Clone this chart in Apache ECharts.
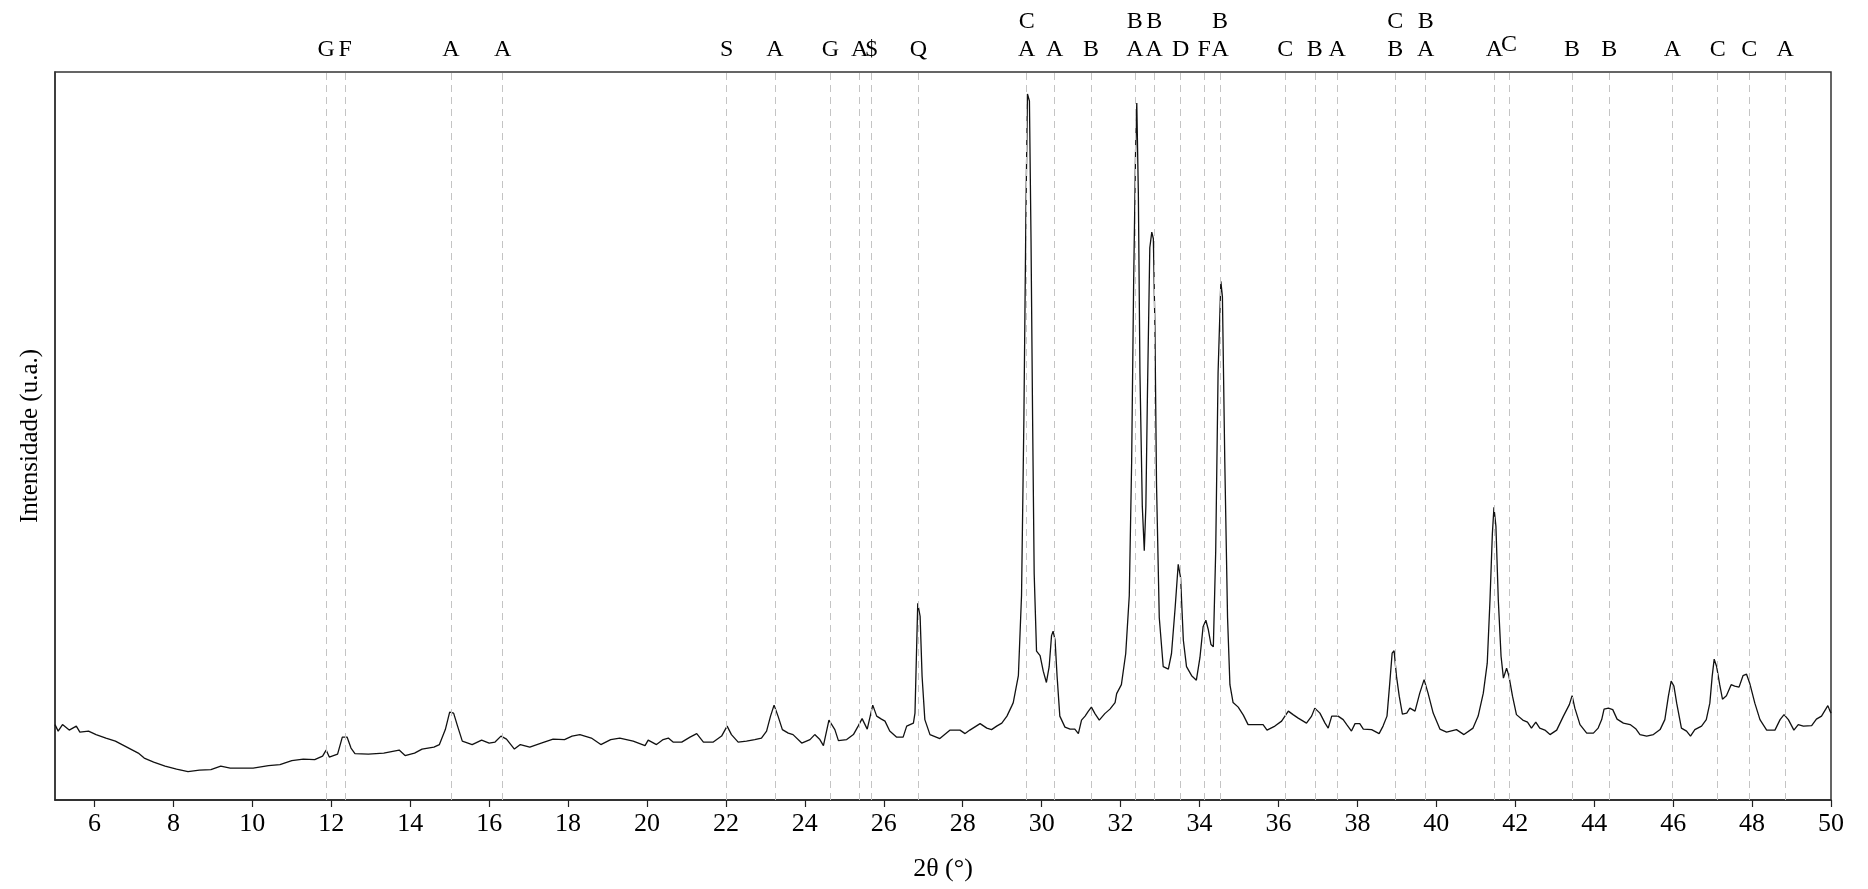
<!DOCTYPE html>
<html>
<head>
<meta charset="utf-8">
<script src="https://cdn.jsdelivr.net/npm/echarts@6/dist/echarts.min.js"></script>
<style>
  html, body { margin: 0; padding: 0; background: #fff; }
  #main { width: 1868px; height: 889px; }
</style>
</head>
<body>
<div id="main"></div>
<script>
// difratograma: 2theta (graus) e intensidade (u.a., escala arbitraria)
var twoTheta = [
  5.00, 5.08, 5.19, 5.36, 5.54, 5.63, 5.85, 6.04, 6.29, 6.53, 6.82, 7.11, 7.26, 7.50, 7.79, 8.08, 8.37, 8.66, 8.95, 9.20,
  9.44, 9.73, 10.02, 10.41, 10.70, 11.00, 11.29, 11.58, 11.78, 11.87, 11.95, 12.16, 12.28, 12.40, 12.50, 12.60, 12.94, 13.33, 13.72, 13.87,
  14.11, 14.30, 14.60, 14.74, 14.89, 15.00, 15.10, 15.20, 15.32, 15.57, 15.81, 16.00, 16.15, 16.30, 16.44, 16.64, 16.79, 17.03, 17.32, 17.62,
  17.91, 18.10, 18.30, 18.59, 18.83, 19.08, 19.31, 19.65, 19.95, 20.03, 20.24, 20.41, 20.54, 20.66, 20.88, 21.09, 21.26, 21.43, 21.68, 21.89,
  22.03, 22.14, 22.31, 22.52, 22.73, 22.90, 23.03, 23.13, 23.22, 23.32, 23.43, 23.58, 23.70, 23.92, 24.13, 24.25, 24.38, 24.47, 24.61, 24.76,
  24.85, 25.06, 25.23, 25.35, 25.45, 25.58, 25.72, 25.82, 25.94, 26.03, 26.15, 26.32, 26.49, 26.58, 26.75, 26.79, 26.86, 26.92, 26.97, 27.04,
  27.17, 27.42, 27.68, 27.93, 28.06, 28.18, 28.44, 28.61, 28.73, 28.86, 28.99, 29.12, 29.24, 29.28, 29.41, 29.49, 29.55, 29.60, 29.64, 29.69,
  29.73, 29.77, 29.81, 29.87, 29.96, 30.04, 30.12, 30.19, 30.25, 30.29, 30.34, 30.39, 30.46, 30.59, 30.72, 30.84, 30.93, 31.01, 31.10, 31.18,
  31.26, 31.35, 31.46, 31.60, 31.73, 31.86, 31.90, 32.02, 32.13, 32.22, 32.28, 32.33, 32.38, 32.41, 32.45, 32.49, 32.55, 32.60, 32.64, 32.68,
  32.74, 32.79, 32.83, 32.87, 32.91, 32.98, 33.08, 33.21, 33.29, 33.38, 33.46, 33.52, 33.59, 33.67, 33.80, 33.92, 34.01, 34.09, 34.16, 34.22,
  34.29, 34.35, 34.41, 34.47, 34.54, 34.58, 34.64, 34.71, 34.77, 34.85, 34.98, 35.11, 35.23, 35.40, 35.61, 35.71, 35.91, 36.08, 36.25, 36.37,
  36.50, 36.71, 36.84, 36.92, 37.05, 37.18, 37.26, 37.35, 37.51, 37.64, 37.73, 37.85, 37.94, 38.06, 38.15, 38.36, 38.55, 38.65, 38.75, 38.82,
  38.88, 38.93, 38.99, 39.06, 39.14, 39.25, 39.33, 39.46, 39.58, 39.69, 39.79, 39.92, 40.09, 40.26, 40.51, 40.70, 40.93, 41.06, 41.19, 41.29,
  41.36, 41.42, 41.46, 41.51, 41.57, 41.64, 41.70, 41.78, 41.84, 41.93, 42.03, 42.19, 42.31, 42.41, 42.52, 42.62, 42.75, 42.88, 43.05, 43.22,
  43.37, 43.44, 43.51, 43.64, 43.81, 43.98, 44.10, 44.19, 44.25, 44.36, 44.47, 44.58, 44.74, 44.91, 45.06, 45.16, 45.33, 45.50, 45.67, 45.79,
  45.88, 45.95, 46.02, 46.09, 46.21, 46.34, 46.44, 46.55, 46.72, 46.84, 46.93, 46.99, 47.04, 47.10, 47.18, 47.25, 47.35, 47.47, 47.56, 47.67,
  47.77, 47.86, 47.94, 48.07, 48.20, 48.37, 48.58, 48.71, 48.81, 48.92, 49.06, 49.17, 49.30, 49.51, 49.63, 49.76, 49.92, 49.96, 50.00
];
var intensidade = [
  75.5, 69, 75.5, 70, 74, 68, 69, 65.5, 62, 59, 53, 47, 42, 38, 34, 31, 28.5, 30, 30.5, 34,
  32, 32, 32, 34.5, 35.5, 39.5, 41, 40.5, 44, 50, 43, 46, 63, 63, 52, 46.5, 46, 47, 50, 44.5,
  47, 51, 53, 55.5, 70.5, 88, 87, 74, 59, 55.5, 60, 57, 58, 64, 61, 51, 55.5, 53, 57, 61,
  60.5, 64, 65.5, 62, 55.5, 60.5, 62, 59, 54.5, 60, 55.5, 60.5, 62, 58, 58, 63, 66.5, 58, 58, 64,
  74, 65.5, 58, 59, 60.5, 62, 69, 84, 95, 84, 70.5, 67, 65.5, 57, 60.5, 65.5, 60.5, 54.5, 80, 70.5,
  59.5, 60.5, 65.5, 74, 81.5, 71, 95, 84, 81, 79, 69, 63, 63, 74, 77, 87, 197, 184, 124, 80.5,
  65.5, 61.5, 70, 70, 66.5, 70, 76.5, 72, 70.5, 74, 77, 84, 94, 97.5, 124.5, 205, 383, 584, 707, 700,
  562, 383, 227, 149, 144.5, 129, 117.7, 133.5, 164.6, 169, 160, 124.5, 84, 73, 71, 71, 66.5, 80, 84, 88.7,
  93, 86.5, 80, 86.5, 91, 97.6, 106.5, 115.5, 146.7, 204.8, 338.7, 517, 651, 698, 606.5, 428, 294, 249.5, 294, 405.7,
  553, 568.6, 562, 472.6, 316.5, 182.5, 133.5, 131, 146.7, 191.5, 236, 222.6, 160, 133.5, 124.5, 120, 142.5, 173.5, 180, 171,
  155.7, 153.5, 249.5, 428, 519.5, 504, 338.7, 182.5, 115.5, 97.6, 93, 85, 75.5, 75.5, 75.5, 70, 74, 79, 89, 85.5,
  82, 77, 84, 92, 87, 77, 72, 84, 84, 80.5, 75.5, 69, 76.5, 76.5, 71, 70.5, 66.5, 74, 84, 117,
  147, 149.5, 124, 104, 86, 87, 92, 89, 107, 120.5, 107, 87, 71, 68, 70.5, 65.5, 72, 84, 107, 137,
  200.5, 267, 293, 274, 200.5, 144, 122, 132, 124, 104, 85.5, 80, 78, 72, 78, 72, 70, 65.5, 70, 84,
  95.5, 104.5, 92, 75.5, 67, 67, 72, 80.5, 91, 92, 90.5, 81, 77, 75.5, 71, 65.5, 64, 65.5, 70.5, 80.5,
  104, 119, 114, 97, 72, 69, 64, 70.5, 74, 80.5, 97, 124, 141, 134, 115.5, 101, 104.5, 115.5, 114, 113,
  124.5, 126, 117, 97, 80.5, 70, 70, 80.5, 85.5, 80.5, 70, 75.5, 74, 74.5, 81, 84, 94.5, 90.5, 87
];

// posicoes das fases identificadas (linhas tracejadas) e as letras acima
var fasePos = [11.87, 12.35, 15.03, 16.34, 22.02, 23.24, 24.65, 25.39, 25.69, 26.88,
  29.62, 30.33, 31.25, 32.36, 32.85, 33.52, 34.12, 34.52, 36.17, 36.92,
  37.49, 38.96, 39.73, 41.47, 41.84, 43.44, 44.38, 45.98, 47.13, 47.93, 48.84];
var faseRotulo = ['G', 'F', 'A', 'A', 'S', 'A', 'G', 'A', '$', 'Q',
  'C\nA', 'A', 'B', 'B\nA', 'B\nA', 'D', 'F', 'B\nA', 'C', 'B',
  'A', 'C\nB', 'B\nA', 'A', 'C', 'B', 'B', 'A', 'C', 'C', 'A'];

var xTicks = [6, 8, 10, 12, 14, 16, 18, 20, 22, 24, 26, 28, 30, 32, 34, 36, 38, 40, 42, 44, 46, 48, 50];

var fonte = 'Liberation Serif';

var myChart = echarts.init(document.getElementById('main'));

var serie = twoTheta.map(function (x, i) { return [x, intensidade[i]]; });

var linhas = fasePos.map(function (x, i) {
  return {
    xAxis: x,
    label: {
      formatter: faseRotulo[i],
      distance: x === 41.84 ? 13 : 8
    }
  };
});

var option = {
  animation: false,
  backgroundColor: '#fff',
  grid: {
    left: 55,
    right: 37,
    top: 72,
    bottom: 89,
    show: true,
    borderColor: '#333',
    borderWidth: 1.5
  },
  xAxis: {
    type: 'value',
    min: 5,
    max: 50,
    name: '2θ (°)',
    nameLocation: 'middle',
    nameGap: 56,
    nameTextStyle: { fontFamily: fonte, fontSize: 26, color: '#000' },
    axisLine: { show: true, lineStyle: { color: '#222', width: 1.5 } },
    axisTick: { show: true, length: 7, customValues: xTicks, lineStyle: { color: '#222', width: 1.2 } },
    axisLabel: { customValues: xTicks, margin: 11, fontFamily: fonte, fontSize: 26, color: '#000' },
    splitLine: { show: false }
  },
  yAxis: {
    type: 'value',
    min: 0,
    max: 729,
    name: 'Intensidade (u.a.)',
    nameLocation: 'middle',
    nameRotate: 90,
    nameGap: 12,
    nameTextStyle: { fontFamily: fonte, fontSize: 25, color: '#000' },
    axisLine: { show: true, lineStyle: { color: '#333', width: 1.5 } },
    axisTick: { show: false },
    axisLabel: { show: false },
    splitLine: { show: false }
  },
  series: [{
    type: 'line',
    data: serie,
    showSymbol: false,
    symbol: 'none',
    lineStyle: { color: '#111', width: 1.3 },
    z: 3,
    markLine: {
      silent: true,
      symbol: 'none',
      animation: false,
      lineStyle: { color: '#c4c4c4', width: 1, type: [7, 5] },
      label: {
        show: true,
        position: 'end',
        color: '#000',
        fontFamily: fonte,
        fontSize: 24,
        lineHeight: 28
      },
      data: linhas
    }
  }]
};

myChart.setOption(option, true);

window.onresize = function () {
  myChart.resize();
};
</script>
</body>
</html>
